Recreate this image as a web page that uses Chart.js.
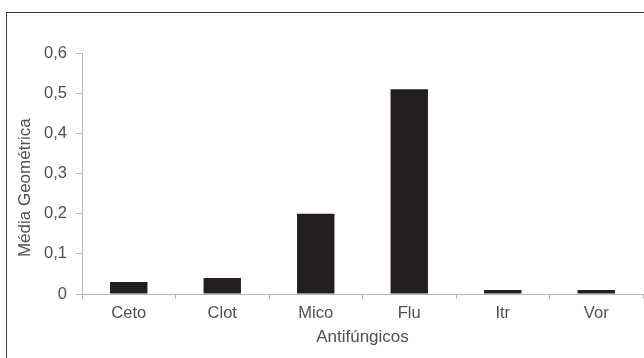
<!DOCTYPE html>
<html lang="pt-br">
<head>
    <meta charset="UTF-8">
    <title>Média Geométrica por Antifúngico</title>
    <script src="https://cdn.jsdelivr.net/npm/chart.js"></script>
    <style>
        body {
            margin: 0;
            background-color: #ffffff;
            overflow: hidden;
        }
        .frame {
            position: absolute;
            left: 6px;
            top: 12px;
            width: 700px;
            height: 400px;
            border: 1px solid #3a3a3a;
        }
        #chart {
            position: absolute;
            left: 0;
            top: 0;
        }
    </style>
</head>
<body>
    <div class="frame"></div>
    <canvas id="chart" width="644" height="358"></canvas>

    <script>
        const categorias = ['Ceto', 'Clot', 'Mico', 'Flu', 'Itr', 'Vor'];
        const mediaGeometrica = [0.03, 0.04, 0.2, 0.51, 0.01, 0.01];
        const yTicks = [0, 0.1, 0.2, 0.3, 0.4, 0.5, 0.6];

        const corTexto = '#505050';
        const corEixo = '#b8b8b8';
        const fonte = "'Liberation Sans', Arial, sans-serif";

        const ctx = document.getElementById('chart').getContext('2d');
        new Chart(ctx, {
            type: 'bar',
            data: {
                labels: categorias,
                datasets: [{
                    label: 'Média Geométrica',
                    data: mediaGeometrica,
                    backgroundColor: '#231f20',
                    borderWidth: 0,
                    categoryPercentage: 1,
                    barPercentage: 0.4
                }]
            },
            options: {
                responsive: false,
                animation: false,
                layout: {
                    padding: { left: 0, top: 53, right: 1, bottom: 0 }
                },
                plugins: {
                    legend: { display: false },
                    tooltip: { enabled: false }
                },
                scales: {
                    x: {
                        afterFit: (scale) => { scale.height = 64; },
                        grid: {
                            offset: true,
                            drawOnChartArea: false,
                            drawTicks: true,
                            tickLength: 5,
                            color: corEixo
                        },
                        border: { color: corEixo, width: 1 },
                        ticks: {
                            color: corTexto,
                            padding: 5,
                            font: { family: fonte, size: 16.5 }
                        },
                        title: {
                            display: true,
                            text: 'Antifúngicos',
                            color: corTexto,
                            padding: { top: 0, bottom: 10 },
                            font: { family: fonte, size: 17 }
                        }
                    },
                    y: {
                        min: 0,
                        max: 0.6,
                        afterFit: (scale) => { scale.width = 82; },
                        afterBuildTicks: (scale) => {
                            scale.ticks = yTicks.map(v => ({ value: v }));
                        },
                        grid: {
                            drawOnChartArea: false,
                            drawTicks: true,
                            tickLength: 6,
                            color: corEixo
                        },
                        border: { color: corEixo, width: 1 },
                        ticks: {
                            color: corTexto,
                            padding: 9,
                            font: { family: fonte, size: 16.5 },
                            callback: (v) => v === 0 ? '0' : Number(v).toFixed(1).replace('.', ',')
                        },
                        title: {
                            display: true,
                            // espaços no fim empurram o título um pouco para baixo, como no original
                            text: 'Média Geométrica      ',
                            color: corTexto,
                            padding: { top: 15, bottom: 0 },
                            font: { family: fonte, size: 17 }
                        }
                    }
                }
            }
        });
    </script>
</body>
</html>
